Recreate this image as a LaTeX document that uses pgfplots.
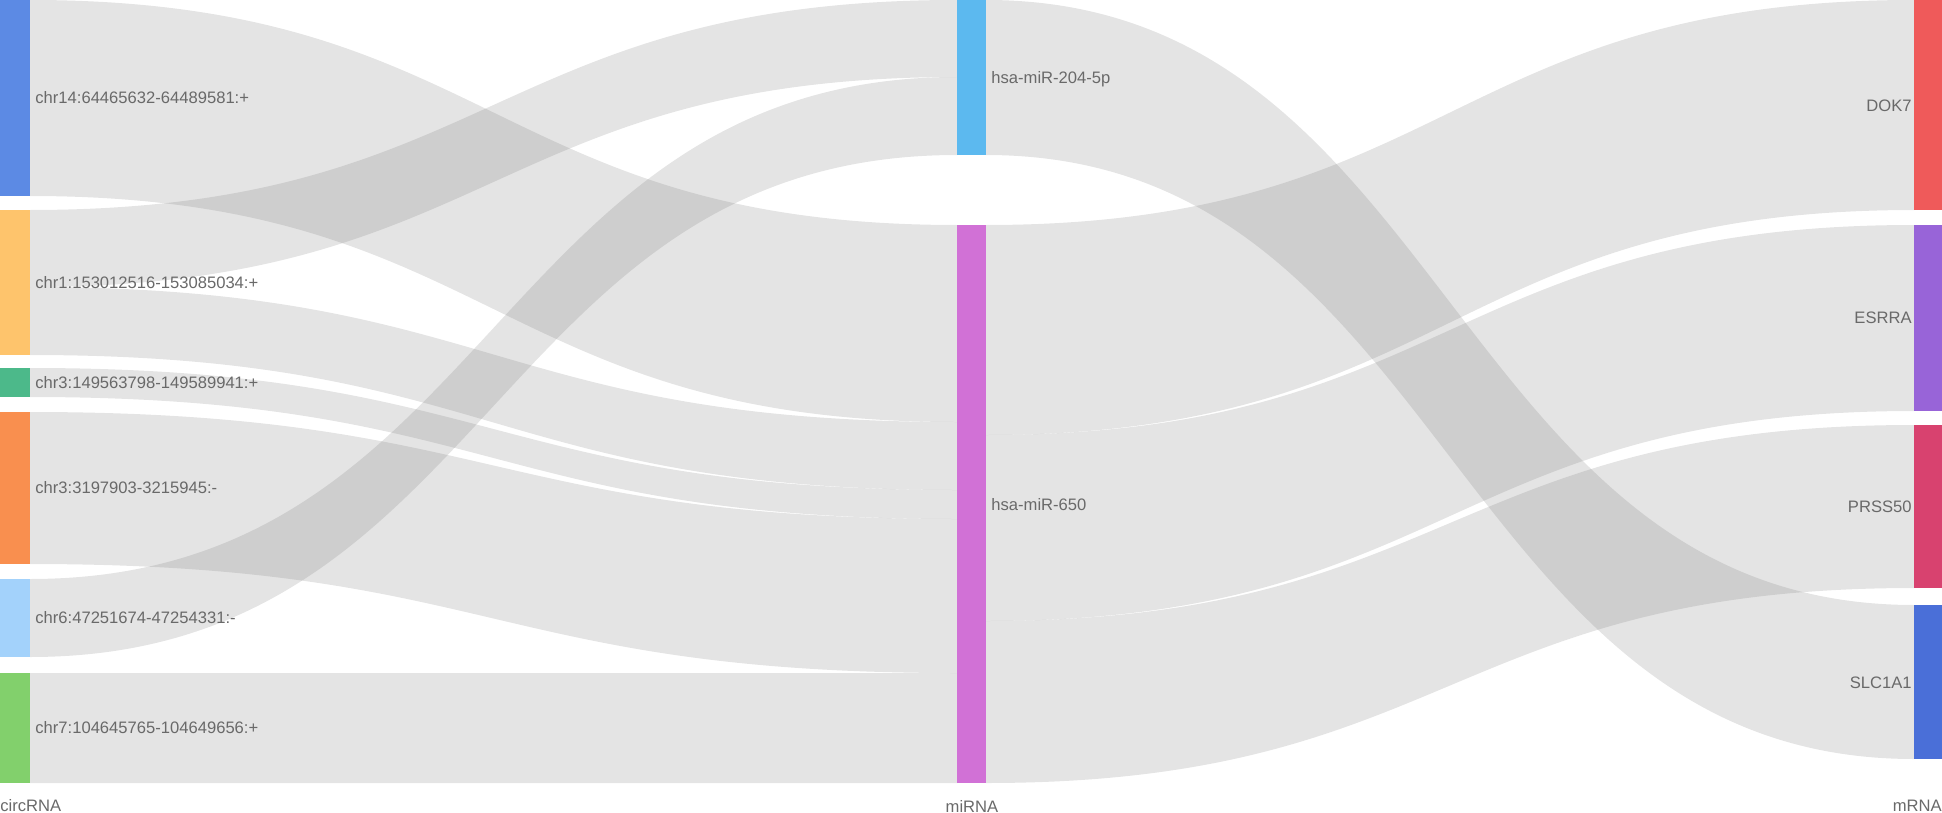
\documentclass[border=0pt]{standalone}
\usepackage{fontspec}
\setmainfont{Liberation Sans}
\usepackage{pgfplots}
\usepackage{pgfplotstable}
\pgfplotsset{compat=1.18}

\definecolor{cA}{RGB}{92,138,228}   % chr14
\definecolor{cB}{RGB}{254,196,108}  % chr1
\definecolor{cC}{RGB}{76,185,138}   % chr3:149
\definecolor{cD}{RGB}{249,143,79}   % chr3:3197
\definecolor{cE}{RGB}{163,210,251}  % chr6
\definecolor{cF}{RGB}{130,208,108}  % chr7
\definecolor{mA}{RGB}{92,185,239}   % miR-204-5p
\definecolor{mB}{RGB}{209,113,214}  % miR-650
\definecolor{gA}{RGB}{239,90,90}    % DOK7
\definecolor{gB}{RGB}{152,100,216}  % ESRRA
\definecolor{gC}{RGB}{216,66,111}   % PRSS50
\definecolor{gD}{RGB}{74,111,216}   % SLC1A1
\definecolor{linkgray}{RGB}{110,110,110}
\definecolor{labelgray}{RGB}{105,105,105}

\tikzset{
  linkfill/.style={fill=linkgray, fill opacity=0.19, draw=none},
  lbl/.style={inner sep=0pt, text=labelgray, font=\fontsize{8.3}{10}\selectfont},
}

% links: x0 = source node right edge, x1 = target node left edge,
% s0/s1 = band at source, t0/t1 = band at target (y grows downwards)
\pgfplotstableread{
x0  x1   s0  s1  t0  t1
30  957  0   196 225 422
30  957  210 287 0   77
30  957  287 355 422 490
30  957  368 397 490 519
30  957  412 564 519 673
30  957  579 657 77  155
30  957  673 783 673 783
986 1914 225 435 0   210
986 1914 435 621 225 411
986 1914 621 783 425 588
986 1914 0   155 605 759
}\linktable

\begin{document}
\begin{tikzpicture}
\begin{axis}[
  width=971pt, height=406.5pt, scale only axis,
  xmin=0, xmax=1942, ymin=0, ymax=813, y dir=reverse,
  hide axis, clip=false, no markers,
]
% ---- links ----
\pgfplotstablegetrowsof{\linktable}
\pgfmathtruncatemacro\nlast{\pgfplotsretval-1}
\pgfplotsforeachungrouped \r in {0,...,\nlast}{%
  \pgfplotstablegetelem{\r}{x0}\of\linktable \let\xa\pgfplotsretval
  \pgfplotstablegetelem{\r}{x1}\of\linktable \let\xb\pgfplotsretval
  \pgfplotstablegetelem{\r}{s0}\of\linktable \let\sa\pgfplotsretval
  \pgfplotstablegetelem{\r}{s1}\of\linktable \let\sb\pgfplotsretval
  \pgfplotstablegetelem{\r}{t0}\of\linktable \let\ta\pgfplotsretval
  \pgfplotstablegetelem{\r}{t1}\of\linktable \let\tb\pgfplotsretval
  \pgfmathsetmacro\xm{(\xa+\xb)/2}%
  \edef\tmp{\noexpand\fill[linkfill] (axis cs:\xa,\sa) .. controls (axis cs:\xm,\sa) and (axis cs:\xm,\ta) .. (axis cs:\xb,\ta) -- (axis cs:\xb,\tb) .. controls (axis cs:\xm,\tb) and (axis cs:\xm,\sb) .. (axis cs:\xa,\sb) -- cycle;}%
  \tmp
}
% ---- nodes: circRNA ----
\addplot[draw=none, fill=cA] coordinates {(0,0) (30,0) (30,196) (0,196)};
\addplot[draw=none, fill=cB] coordinates {(0,210) (30,210) (30,355) (0,355)};
\addplot[draw=none, fill=cC] coordinates {(0,368) (30,368) (30,397) (0,397)};
\addplot[draw=none, fill=cD] coordinates {(0,412) (30,412) (30,564) (0,564)};
\addplot[draw=none, fill=cE] coordinates {(0,579) (30,579) (30,657) (0,657)};
\addplot[draw=none, fill=cF] coordinates {(0,673) (30,673) (30,783) (0,783)};
% ---- nodes: miRNA ----
\addplot[draw=none, fill=mA] coordinates {(957,0) (986,0) (986,155) (957,155)};
\addplot[draw=none, fill=mB] coordinates {(957,225) (986,225) (986,783) (957,783)};
% ---- nodes: mRNA ----
\addplot[draw=none, fill=gA] coordinates {(1914,0) (1942,0) (1942,210) (1914,210)};
\addplot[draw=none, fill=gB] coordinates {(1914,225) (1942,225) (1942,411) (1914,411)};
\addplot[draw=none, fill=gC] coordinates {(1914,425) (1942,425) (1942,588) (1914,588)};
\addplot[draw=none, fill=gD] coordinates {(1914,605) (1942,605) (1942,759) (1914,759)};
% ---- labels ----
\node[lbl, anchor=west] at (axis cs:35,98) {chr14:64465632-64489581:+};
\node[lbl, anchor=west] at (axis cs:35,283) {chr1:153012516-153085034:+};
\node[lbl, anchor=west] at (axis cs:35,383) {chr3:149563798-149589941:+};
\node[lbl, anchor=west] at (axis cs:35,488) {chr3:3197903-3215945:-};
\node[lbl, anchor=west] at (axis cs:35,618) {chr6:47251674-47254331:-};
\node[lbl, anchor=west] at (axis cs:35,728) {chr7:104645765-104649656:+};
\node[lbl, anchor=west] at (axis cs:991,79) {hsa-miR-204-5p};
\node[lbl, anchor=west] at (axis cs:991,505) {hsa-miR-650};
\node[lbl, anchor=east] at (axis cs:1912,106) {DOK7};
\node[lbl, anchor=east] at (axis cs:1912,318) {ESRRA};
\node[lbl, anchor=east] at (axis cs:1912,507) {PRSS50};
\node[lbl, anchor=east] at (axis cs:1912,683) {SLC1A1};
\node[lbl, anchor=west] at (axis cs:0,806) {circRNA};
\node[lbl, anchor=center] at (axis cs:972,806) {miRNA};
\node[lbl, anchor=east] at (axis cs:1942,806) {mRNA};
\end{axis}
\pgfresetboundingbox
\path[use as bounding box] (current axis.south west) rectangle (current axis.north east);
\end{tikzpicture}
\end{document}
